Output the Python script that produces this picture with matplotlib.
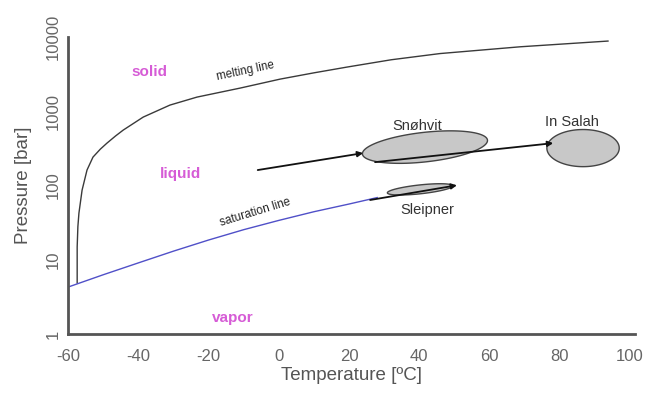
import numpy as np
import matplotlib
matplotlib.use("Agg")
import matplotlib.pyplot as plt

plt.rcParams['font.family'] = ['Liberation Sans', 'DejaVu Sans']
plt.rcParams['axes.unicode_minus'] = False

# melting line
melt_T = [-57.4, -57.4, -57.2, -56.9, -56.0, -54.6, -52.9, -50.8, -48.9, -46.5, -44.3, -38.6, -31.0,
          -23.3, -11.0, 0.4, 10.0, 19.4, 32.0, 45.9, 68.7, 93.7]
melt_P = [4.9, 14.9, 28, 42.6, 87, 162, 242, 310, 374, 465, 559, 837, 1214,
          1555, 2057, 2718, 3300, 3945, 4950, 6000, 7400, 8840]

# saturation line
sat_T = [-60, -50, -40, -30, -20, -10, 0, 10, 20, 28]
sat_P = [4.3, 6.3, 9.1, 13.1, 18.5, 25.5, 34.0, 44.5, 56.5, 69]

# storage sites: centre T, centre P, half width (degC), half height (decades), tilt (decades/degC)
sites = ['Snøhvit', 'Sleipner', 'In Salah']
site_T = [41.6, 40.2, 86.6]
site_P = [330, 89, 320]
site_w = [17.8, 9.3, 10.3]
site_h = [0.2, 0.06, 0.25]
site_tilt = [0.005, 0.005, 0.0]
label_T = [39.4, 42.2, 83.5]
label_P = [630, 47, 716]

# arrows (start -> end)
arrow_start = [(-6.0, 162), (27.4, 207), (26.0, 64)]
arrow_end = [(24.0, 274), (78.1, 373), (50.7, 101)]

# phase labels
phases = ['solid', 'liquid', 'vapor']
phase_T = [-36.7, -28.1, -13.0]
phase_P = [3390, 143, 1.64]

fig, ax = plt.subplots(figsize=(6.48, 4.12), dpi=100)
fig.subplots_adjust(left=0.105, right=0.98, bottom=0.189, top=0.910)

ax.set_yscale('log')
ax.set_xlim(-60, 101.4)
ax.set_ylim(1, 10000)

ax.plot(melt_T, melt_P, color='#3a3a3a', lw=1.0)
ax.plot(sat_T, sat_P, color='#5050c8', lw=1.0)

t = np.linspace(0, 2 * np.pi, 200)
for i in range(len(sites)):
    xs = site_T[i] + site_w[i] * np.cos(t)
    ls = np.log10(site_P[i]) + site_h[i] * np.sin(t) + site_tilt[i] * (xs - site_T[i])
    ax.fill(xs, 10 ** ls, facecolor='#c8c8c8', edgecolor='#444444', lw=1.0, zorder=3)
    ax.text(label_T[i], label_P[i], sites[i], ha='center', va='center',
            fontsize=10.5, color='#333333')

for s, e in zip(arrow_start, arrow_end):
    ax.annotate('', xy=e, xytext=s,
                arrowprops=dict(arrowstyle='-|>', color='#111111', lw=1.3,
                                mutation_scale=8, shrinkA=0, shrinkB=0),
                zorder=4)

for name, tx, py in zip(phases, phase_T, phase_P):
    ax.text(tx, py, name, ha='center', va='center', fontsize=11,
            fontweight='bold', color='#d65cd6')

ax.text(-9.6, 3500, 'melting line', rotation=12, ha='center', va='center',
        fontsize=8.3, color='#222222')
ax.text(-6.8, 43.5, 'saturation line', rotation=17, ha='center', va='center',
        fontsize=8.5, color='#222222')

for side in ['top', 'right']:
    ax.spines[side].set_visible(False)
for side in ['left', 'bottom']:
    ax.spines[side].set_color('#555555')
    ax.spines[side].set_linewidth(2)

ax.set_xticks([-60, -40, -20, 0, 20, 40, 60, 80, 100])
ax.set_yticks([1, 10, 100, 1000, 10000])
ax.set_yticklabels(['1', '10', '100', '1000', '10000'])
ax.minorticks_off()
ax.tick_params(axis='both', length=0, labelsize=12, labelcolor='#666666')
ax.tick_params(axis='x', pad=11)
ax.tick_params(axis='y', pad=5)
for lab in ax.get_yticklabels():
    lab.set_rotation(90)
    lab.set_va('center')

ax.set_xlabel('Temperature [ºC]', fontsize=13.5, color='#555555', labelpad=2)
ax.set_ylabel('Pressure [bar]', fontsize=13.5, color='#555555', labelpad=10)

fig.savefig('out.png', dpi=100, facecolor='white')
